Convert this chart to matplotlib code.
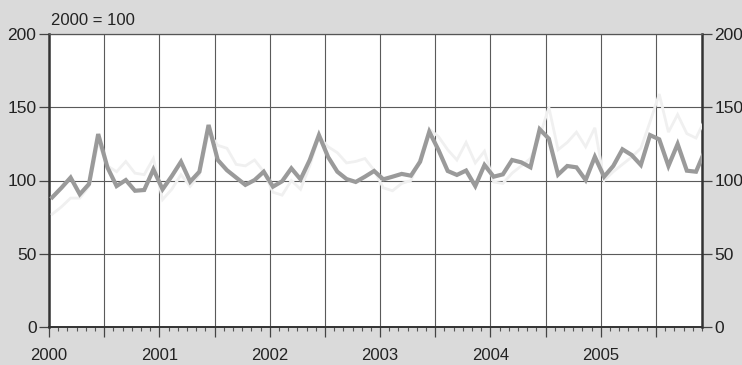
import matplotlib
matplotlib.use('Agg')
import matplotlib.pyplot as plt
import numpy as np

# ---- data (monthly index values, 2000 = 100) ----
months = np.arange(72)  # Jan 2000 .. Dec 2005
series_dark = [88.5, 95, 102, 90.6, 97.6, 131.7, 109, 96.2, 100.3, 93, 93.5, 107.6,
               94, 103, 112.8, 99.2, 106, 137.9, 114, 107, 102, 97, 100.3, 106,
               95.8, 99.5, 108.3, 100.8, 114, 131, 116, 106, 101, 99, 102.6, 106.5,
               100.8, 102.6, 104.5, 103.3, 112.8, 133.3, 120.8, 106.5, 103.8, 106.8, 96.2, 110.6,
               102.6, 104.2, 114, 112.4, 109, 135, 128.5, 104, 109.9, 109, 100.3, 116.2,
               102.6, 109.9, 121.3, 117.4, 110.6, 131, 128.1, 109.9, 124.9, 106.7, 106, 120.8]
series_light = [77, 82, 88, 88, 96, 126, 110, 106, 113, 105, 104, 115,
                87, 94, 104, 96, 104, 133, 124, 122, 111, 110, 114, 106,
                92, 90, 100, 94, 110, 130, 123, 119, 112, 113, 115, 107,
                95, 93, 98, 100, 115, 135, 130, 121, 114, 126, 112, 120,
                99, 98, 105, 110, 115, 130, 150, 121, 126, 133, 123, 136,
                100, 106, 111, 116, 122, 140, 159, 133, 145, 132, 129, 142]
year_labels = ['2000', '2001', '2002', '2003', '2004', '2005']
y_ticks = [0, 50, 100, 150, 200]
unit_label = '2000 = 100'

plt.rcParams['font.family'] = ['Liberation Sans', 'DejaVu Sans']

W, H = 742, 365
fig = plt.figure(figsize=(W / 100, H / 100), dpi=100, facecolor='#dadada')
ax = fig.add_axes([49 / W, 38 / H, 653 / W, 293 / H])
ax.set_facecolor('white')

x = months + 0.35
ax.plot(x, series_light, color='#f0f0f0', lw=2.0, zorder=3, solid_joinstyle='miter')
ax.plot(x, series_dark, color='#9a9a9a', lw=3.0, zorder=4, solid_joinstyle='miter')

ax.set_xlim(0, 71)
ax.set_ylim(0, 200)

# x ticks: majors every 6 months, labels at January
major = np.arange(0, 72, 6)
ax.set_xticks(major)
ax.set_xticklabels([year_labels[i // 12] if i % 12 == 0 else '' for i in major])
ax.set_xticks(np.arange(0, 72, 1), minor=True)
ax.tick_params(axis='x', which='major', direction='out', length=7, width=0.9,
               color='#444444', pad=8, labelsize=12, labelcolor='#222222')
ax.tick_params(axis='x', which='minor', direction='out', length=3, width=0.8,
               color='#555555')

ax.set_yticks(y_ticks)
ax.tick_params(axis='y', which='major', direction='out', length=7, width=0.9,
               color='#444444', pad=2, labelsize=12.5, labelcolor='#222222',
               left=True, right=True, labelleft=True, labelright=True)

ax.grid(True, which='major', axis='both', color='#5a5a5a', lw=0.8, zorder=1)
ax.set_axisbelow(True)

for side in ['left', 'right']:
    ax.spines[side].set_linewidth(1.8)
    ax.spines[side].set_color('#333333')
ax.spines['bottom'].set_linewidth(1.4)
ax.spines['bottom'].set_color('#333333')
ax.spines['top'].set_linewidth(0.9)
ax.spines['top'].set_color('#555555')

fig.text(51 / W, 1 - 25 / H, unit_label, fontsize=12, color='#222222',
         ha='left', va='baseline')

fig.savefig('out.png', dpi=100, facecolor=fig.get_facecolor())
